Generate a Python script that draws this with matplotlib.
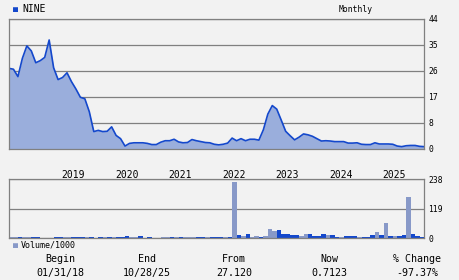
import matplotlib
matplotlib.use("Agg")
import matplotlib.pyplot as plt
import numpy as np

# monthly closing price, 01/2018 .. 10/2025
price = [27.3, 27.0, 24.5, 30.7, 34.9, 33.2, 29.2, 29.9, 31.0, 36.9,
         27.5, 23.5, 24.2, 25.8, 22.8, 20.3, 17.5, 17.0, 12.6, 5.9,
         6.3, 5.9, 6.0, 7.5, 4.6, 3.5, 1.0, 1.9, 2.1, 2.1,
         2.1, 1.9, 1.5, 1.5, 2.3, 2.8, 2.8, 3.3, 2.4, 2.1,
         2.2, 3.2, 2.8, 2.5, 2.2, 2.1, 1.6, 1.4, 1.6, 2.0,
         3.7, 2.8, 3.5, 2.8, 3.3, 3.3, 3.0, 6.5, 11.8, 14.7,
         13.5, 9.8, 6.0, 4.5, 3.1, 4.0, 5.1, 4.8, 4.3, 3.5,
         2.7, 2.8, 2.7, 2.5, 2.5, 2.5, 2.0, 2.0, 2.1, 1.6,
         1.5, 1.5, 2.1, 1.7, 1.7, 1.7, 1.6, 1.0, 0.8, 1.1,
         1.2, 1.2, 0.9, 0.8]

# monthly volume / 1000 and whether bar is dark (1) or light (0)
volume = [7, 5, 5, 5, 5, 4, 5, 3, 3, 3,
          5, 5, 5, 5, 5, 5, 5, 5, 5, 3,
          4, 4, 5, 5, 5, 5, 8, 6, 7, 11,
          3, 4, 3, 3, 4, 4, 5, 4, 4, 4,
          5, 5, 5, 5, 4, 4, 5, 5, 5, 5,
          228, 13, 9, 17, 4, 9, 5, 9, 37, 29,
          33, 17, 17, 13, 13, 9, 17, 17, 9, 9,
          17, 13, 13, 6, 6, 9, 9, 9, 6, 6,
          4, 13, 27, 13, 63, 9, 9, 9, 13, 168,
          17, 9, 6]
dark = [0, 0, 1, 0, 0, 1, 1, 0, 0, 0,
        1, 1, 0, 0, 1, 1, 1, 0, 1, 0,
        1, 0, 1, 0, 1, 1, 1, 0, 0, 1,
        0, 1, 0, 0, 0, 0, 1, 0, 1, 0,
        0, 0, 1, 1, 0, 1, 1, 1, 0, 1,
        0, 1, 0, 1, 0, 0, 1, 0, 0, 0,
        1, 1, 1, 1, 1, 0, 0, 1, 1, 1,
        1, 0, 1, 1, 0, 1, 1, 1, 0, 1,
        1, 1, 0, 1, 0, 1, 0, 1, 1, 0,
        1, 1, 1]

years = ['2019', '2020', '2021', '2022', '2023', '2024', '2025']
year_pos = [14.3, 26.4, 38.3, 50.4, 62.3, 74.4, 86.3]
price_ticks = [0, 8.8, 17.6, 26.4, 35.2, 44]
price_labels = ['0', '8', '17', '26', '35', '44']
vol_ticks = [0, 119, 238]

stat_heads = ['Begin', 'End', 'From', 'Now', '% Change']
stat_vals = ['01/31/18', '10/28/25', '27.120', '0.7123', '-97.37%']
stat_x = [60, 147, 234, 329, 417]

bg = '#f2f2f2'
grid_c = '#808080'
line_c = '#1448cc'
fill_c = '#9aaedc'
light_c = '#8899c8'
mono = 'DejaVu Sans Mono'

fig = plt.figure(figsize=(4.6, 2.8), dpi=100, facecolor=bg)
W, H = 460.0, 280.0

ax = fig.add_axes([9 / W, 1 - 149 / H, 415 / W, 130 / H], facecolor=bg)
x = np.arange(len(price))
ax.fill_between(x, price, 0, color=fill_c, lw=0)
ax.plot(x, price, color=line_c, lw=1.2)
ax.set_xlim(0, 93)
ax.set_ylim(0, 44)
ax.set_yticks(price_ticks)
ax.set_yticklabels(price_labels)
ax.yaxis.tick_right()
ax.set_xticks(year_pos)
ax.set_xticklabels(years)
ax.tick_params(axis='y', length=0, pad=3, labelsize=5.8, labelfontfamily=mono)
ax.tick_params(axis='x', length=0, pad=15, labelsize=7, labelfontfamily=mono)
ax.grid(axis='y', color=grid_c, lw=0.9)
ax.set_axisbelow(True)
for s in ax.spines.values():
    s.set_color(grid_c)
    s.set_linewidth(0.9)

vax = fig.add_axes([9 / W, 1 - 238.3 / H, 415 / W, 59 / H], facecolor=bg)
cols = [line_c if d else light_c for d in dark]
vax.bar(np.arange(len(volume)), volume, width=1.0, align='edge', color=cols, lw=0)
vax.set_xlim(0, 93)
vax.set_ylim(0, 238)
vax.set_yticks(vol_ticks)
vax.yaxis.tick_right()
vax.set_xticks([])
vax.tick_params(axis='y', length=0, pad=3, labelsize=5.8, labelfontfamily=mono)
vax.grid(axis='y', color=grid_c, lw=0.9)
vax.set_axisbelow(True)
for s in vax.spines.values():
    s.set_color(grid_c)
    s.set_linewidth(0.9)

# legends / header
fig.text(15 / W, 1 - 9 / H, '\u25a0', color=line_c, fontsize=6, family=mono, va='center', ha='center')
fig.text(22 / W, 1 - 9 / H, 'NINE', fontsize=7, family=mono, va='center')
fig.text(339 / W, 1 - 9 / H, 'Monthly', fontsize=5.8, family=mono, va='center')
fig.text(15 / W, 1 - 245 / H, '\u25a0', color=light_c, fontsize=6, family=mono, va='center', ha='center')
fig.text(21 / W, 1 - 245 / H, 'Volume/1000', fontsize=6, family=mono, va='center')

for hx, head, val in zip(stat_x, stat_heads, stat_vals):
    fig.text(hx / W, 1 - 259 / H, head, fontsize=7.2, family=mono, ha='center', va='center')
    fig.text(hx / W, 1 - 273 / H, val, fontsize=7.2, family=mono, ha='center', va='center')

fig.savefig('out.png', dpi=100, facecolor=bg)
